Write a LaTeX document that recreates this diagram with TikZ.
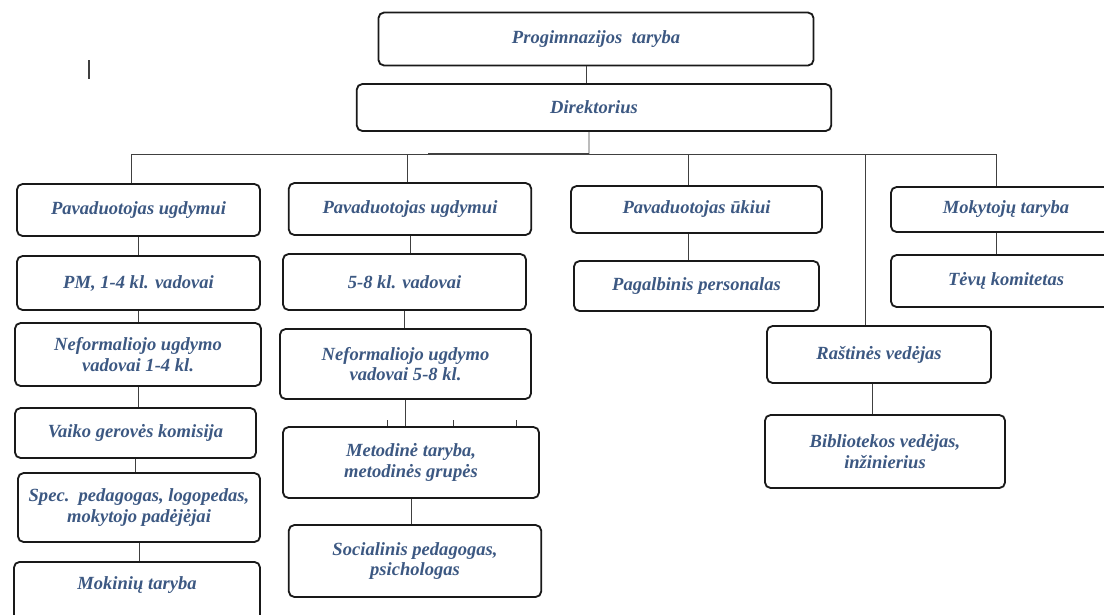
\documentclass[tikz,border=0pt]{standalone}
\usepackage{fontspec}
\setmainfont{Liberation Serif}
\definecolor{txtblue}{RGB}{60,88,130}

\begin{document}
\begin{tikzpicture}[x=0.025cm, y=-0.025cm,
        box/.style={draw=black!90, line width=1.3pt, rounded corners=4pt, align=center, inner sep=2pt,
            text=txtblue, font=\fontsize{13.2}{14.8}\selectfont\bfseries\itshape},
        link/.style={draw=black!75, line width=0.6pt}]
        \useasboundingbox (0,0) rectangle (1104,614);
        \clip (0,0) rectangle (1104,614);

        % top
        \node[box, minimum width=10.875cm, minimum height=1.325cm] (prog) at (596,39)    {Progimnazijos~~taryba};
        \node[box, minimum width=11.86cm,  minimum height=1.175cm] (dir)  at (594,107.5) {Direktorius};

        % first column
        \node[box, minimum width=6.075cm, minimum height=1.3cm]   (pu1)  at (138.5,210)   {Pavaduotojas ugdymui};
        \node[box, minimum width=6.075cm, minimum height=1.35cm]  (pm)   at (138.5,283)   {PM, 1-4 kl. vadovai};
        \node[box, minimum width=6.15cm,  minimum height=1.575cm] (nf1)  at (138,354.5)   {Neformaliojo ugdymo\\ vadovai 1-4 kl.};
        \node[box, minimum width=6.025cm, minimum height=1.25cm]  (vgk)  at (135.5,433)   {Vaiko gerovės komisija};
        \node[box, minimum width=6.05cm,  minimum height=1.725cm] (spec) at (139,507.5)   {Spec.~~pedagogas, logopedas,\\ mokytojo padėjėjai};
        \node[box, minimum width=6.15cm, anchor=north, inner ysep=0pt, text height=0.7cm, text depth=1.5cm] (mok) at (137,561) {Mokinių taryba};

        % second column
        \node[box, minimum width=6.06cm,  minimum height=1.3cm]   (pu2)  at (410,209)     {Pavaduotojas ugdymui};
        \node[box, minimum width=6.075cm, minimum height=1.4cm]   (k58)  at (404.5,282)   {5-8 kl. vadovai};
        \node[box, minimum width=6.275cm, minimum height=1.75cm]  (nf2)  at (405.5,364)   {Neformaliojo ugdymo\\ vadovai 5-8 kl.};
        \node[box, minimum width=6.4cm,   minimum height=1.775cm] (met)  at (411,462.5)   {Metodinė taryba,\\ metodinės grupės};
        \node[box, minimum width=6.31cm,  minimum height=1.8cm]   (soc)  at (415,561)     {Socialinis pedagogas,\\ psichologas};

        % third column
        \node[box, minimum width=6.275cm, minimum height=1.175cm] (puk)  at (696.5,209.5) {Pavaduotojas ūkiui};
        \node[box, minimum width=6.125cm, minimum height=1.25cm]  (pag)  at (696.5,286)   {Pagalbinis personalas};
        \node[box, minimum width=5.6cm,   minimum height=1.425cm] (ras)  at (879,354.5)   {Raštinės vedėjas};
        \node[box, minimum width=6.0cm,   minimum height=1.825cm] (bib)  at (885,451.5)   {Bibliotekos vedėjas,\\ inžinierius};

        % right column
        \node[box, minimum width=5.75cm,  minimum height=1.125cm] (mkt)  at (1006,209.5)  {Mokytojų taryba};
        \node[box, minimum width=5.75cm,  minimum height=1.3cm]   (tvk)  at (1006,281)    {Tėvų komitetas};

        % bus under the director
        \coordinate (b0) at (589,154);
        \coordinate (bt) at (428,154);
        \coordinate (b1) at (131,154);
        \coordinate (b2) at (407,154);
        \coordinate (b3) at (688,154);
        \coordinate (b4) at (865.5,154);
        \coordinate (b5) at (996,154);
        \draw[link] (b1) -- (b5);
        \draw[link, line width=1.2pt] (bt) -- (b0);

        \path [link] ([xshift=-0.25cm]prog.south) edge ([xshift=-0.25cm]prog.south |- dir.north);
        \path [link] ([xshift=-0.125cm]dir.south) edge (b0);
        \path [link] (b1) edge (b1 |- pu1.north);
        \path [link] (b2) edge (b2 |- pu2.north);
        \path [link] (b3) edge (b3 |- puk.north);
        \path [link] (b4) edge (b4 |- ras.north);
        \path [link] (b5) edge (b5 |- mkt.north);

        \path [link] (pu1.south)  edge (pu1.south |- pm.north);
        \path [link] (pm.south)   edge (pm.south |- nf1.north);
        \path [link] (nf1.south)  edge (nf1.south |- vgk.north);
        \path [link] (vgk.south)  edge (vgk.south |- spec.north);
        \path [link] (spec.south) edge (spec.south |- mok.north);

        \path [link] (pu2.south)  edge (pu2.south |- k58.north);
        \path [link] (k58.south)  edge (k58.south |- nf2.north);
        \path [link] (nf2.south)  edge (nf2.south |- met.north);
        \path [link] (met.south)  edge (met.south |- soc.north);
        \foreach \dx in {-0.59,1.07,2.63}
            \draw[link] ([xshift=\dx cm]met.north) -- ++(0,-6);

        \path [link] (b3 |- puk.south) edge (b3 |- pag.north);
        \path [link] ([xshift=-0.175cm]ras.south) edge ([xshift=-0.175cm]ras.south |- bib.north);
        \path [link] (b5 |- mkt.south) edge (b5 |- tvk.north);

        % stray mark
        \coordinate (m1) at (89,60);
        \coordinate (m2) at (89,79);
        \draw[link, line width=0.8pt] (m1) -- (m2);
    \end{tikzpicture}
\end{document}
